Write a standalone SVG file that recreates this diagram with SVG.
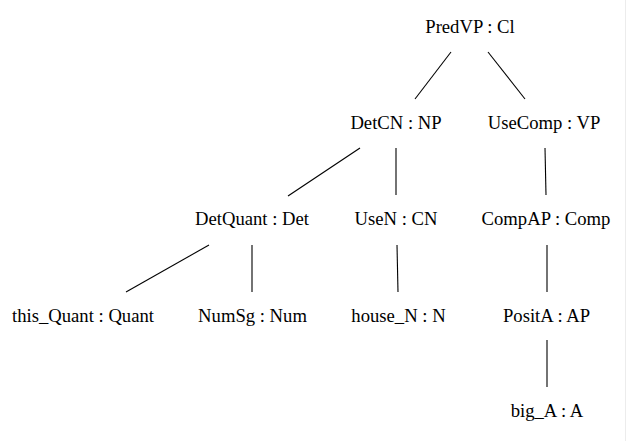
<svg xmlns="http://www.w3.org/2000/svg" width="628" height="441" viewBox="0 0 628 441">
<style>
text{font-family:"Liberation Serif","Times New Roman",serif;font-size:18.67px;fill:#000;text-anchor:middle}
.e line{stroke:#000;stroke-width:1.1}
</style>
<rect width="628" height="441" fill="#fff"/>
<line x1="625.5" y1="0" x2="625.5" y2="441" stroke="#ececec" stroke-width="1"/>
<g class="e" id="edges">
<line x1="451" y1="52" x2="415" y2="99"/>
<line x1="488" y1="52" x2="525" y2="99"/>
<line x1="360" y1="148" x2="288" y2="196"/>
<line x1="396" y1="148" x2="396" y2="195"/>
<line x1="545" y1="148" x2="546" y2="195"/>
<line x1="209" y1="245" x2="126" y2="292"/>
<line x1="252" y1="245" x2="252" y2="292"/>
<line x1="397" y1="245" x2="398" y2="292"/>
<line x1="547" y1="245" x2="547" y2="292"/>
<line x1="547" y1="340" x2="547" y2="387"/>
</g>
<g id="n1"><text x="470" y="33">PredVP : Cl</text></g>
<g id="n2"><text x="396" y="129">DetCN : NP</text></g>
<g id="n3"><text x="544" y="129">UseComp : VP</text></g>
<g id="n4"><text x="252" y="225">DetQuant : Det</text></g>
<g id="n5"><text x="396" y="225">UseN : CN</text></g>
<g id="n6"><text x="546" y="225">CompAP : Comp</text></g>
<g id="n7"><text x="83" y="322">this_Quant : Quant</text></g>
<g id="n8"><text x="252.5" y="322">NumSg : Num</text></g>
<g id="n9"><text x="398.5" y="322">house_N : N</text></g>
<g id="n10"><text x="546.5" y="322">PositA : AP</text></g>
<g id="n11"><text x="547" y="417">big_A : A</text></g>
</svg>
